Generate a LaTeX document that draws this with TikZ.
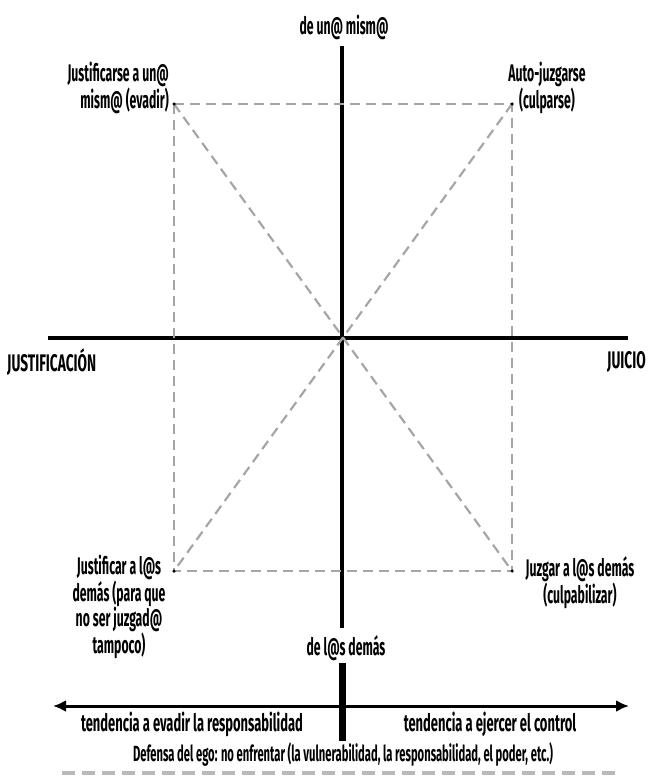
\documentclass[tikz,border=0pt]{standalone}
\usepackage{fontspec}
\setmainfont{Fira Sans}[FakeStretch=0.51]
\newfontfamily\headfont{Fira Sans}[FakeStretch=0.57]
\newfontfamily\botfont{Fira Sans}[FakeStretch=0.54]
\usetikzlibrary{arrows.meta}
\begin{document}
\begin{tikzpicture}[x=1pt,y=-1pt,
  lbl/.style={font=\bfseries\fontsize{24}{22}\selectfont, inner sep=0pt, align=center},
  tight/.style={font=\bfseries\fontsize{24}{20}\selectfont},
  loose/.style={font=\bfseries\fontsize{24}{23}\selectfont},
  head/.style={font=\headfont\bfseries\fontsize{24}{22}\selectfont, inner sep=0pt},
  botlbl/.style={font=\botfont\bfseries\fontsize{24}{22}\selectfont, inner sep=0pt},
  axis/.style={line width=4pt},
  guide/.style={draw=gray!70, line width=2.2pt, dash pattern=on 10pt off 6pt},
  corner/.style={circle, fill=black, inner sep=0pt, minimum size=3.5pt},
  egoline/.style={draw=gray!55, line width=3.5pt, dash pattern=on 13pt off 7pt}]
\useasboundingbox (0,0) rectangle (650,776);
% axes
\coordinate (vt) at (342,46);
\coordinate (vb) at (342,628);
\coordinate (hl) at (48,338);
\coordinate (hr) at (628,338);
\coordinate (O) at (342,338);
\coordinate (lt) at (342,663);
\coordinate (lb) at (342,741);
\coordinate (al) at (53,706);
\coordinate (ar) at (629,706);
\coordinate (el) at (62,773);
\coordinate (er) at (621,773);
\draw[axis] (vt) -- (vb);
\draw[line width=4.5pt] (hl) -- (hr);
\draw[line width=7pt] (lt) -- (lb);
\draw[line width=3pt, {Latex[length=13pt,width=12pt]}-{Latex[length=13pt,width=12pt]}] (al) -- (ar);
% corners
\coordinate (A) at (174,104);
\coordinate (B) at (512,104);
\coordinate (C) at (174,571);
\coordinate (D) at (512,571);
\draw[guide] (A) -- (B) -- (D) -- (C) -- cycle;
\draw[guide] (A) -- (D);
\draw[guide] (B) -- (C);
\node[corner] (dA) at (A) {};
\node[corner] (dB) at (B) {};
\node[corner] (dC) at (C) {};
\node[corner] (dD) at (D) {};
% labels
\node[lbl] (top) at (344,27) {de un@ mism@};
\node[lbl] (bot) at (346,648) {de l@s demás};
\node[head, anchor=west] (jl) at (7,362) {JUSTIFICACIÓN};
\node[head, anchor=east] (ju) at (646,362) {JUICIO};
\node[lbl, tight, align=right, anchor=east] (tl) at (169,88) {Justificarse a un@\\mism@ (evadir)};
\node[lbl, tight] (tr) at (547,88) {Auto-juzgarse\\(culparse)};
\node[lbl, loose] (bl) at (119,607) {Justificar a l@s\\demás (para que\\no ser juzgad@\\tampoco)};
\node[lbl, loose] (br) at (580,583) {Juzgar a l@s demás\\(culpabilizar)};
\node[botlbl] (tl2) at (192,724) {tendencia a evadir la responsabilidad};
\node[botlbl] (tr2) at (490,724) {tendencia a ejercer el control};
\node[lbl, font=\bfseries\fontsize{22}{20}\selectfont] (ego) at (343,754) {Defensa del ego: no enfrentar (la vulnerabilidad, la responsabilidad, el poder, etc.)};
\draw[egoline] (el) -- (er);
\end{tikzpicture}
\end{document}
